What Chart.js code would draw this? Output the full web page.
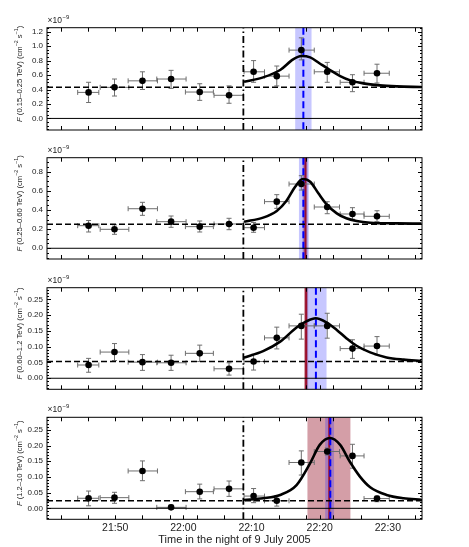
<!DOCTYPE html>
<html><head><meta charset="utf-8">
<script src="https://cdn.jsdelivr.net/npm/chart.js@4.4.1/dist/chart.umd.min.js"></script>
<style>
html,body{margin:0;padding:0;background:#fff;}
#wrap{position:relative;width:469px;height:547px;overflow:hidden;}
canvas{position:absolute;left:0;}
</style></head><body>
<div id="wrap">
<canvas id="c0" width="469" height="140" style="top:0px"></canvas>
<canvas id="c1" width="469" height="140" style="top:130px"></canvas>
<canvas id="c2" width="469" height="140" style="top:260px"></canvas>
<canvas id="c3" width="469" height="157" style="top:390px"></canvas>
</div>
<script>
// time in minutes after 21:00 (night of 9 July 2005)
const binTime  = [46.1, 49.9, 54.0, 58.2, 62.4, 66.7, 70.3, 73.7, 77.3, 81.1, 84.8, 88.4];
const binStart = [44.5, 47.8, 51.9, 56.1, 60.3, 64.5, 68.9, 71.9, 75.5, 79.2, 83.0, 86.5];
const binEnd   = [47.6, 52.0, 56.2, 60.4, 64.4, 68.8, 71.9, 75.5, 79.2, 82.9, 86.5, 90.2];

// fluxes in units of 1e-9 cm^-2 s^-1
const flux1 = [0.36, 0.43, 0.52, 0.545, 0.365, 0.32, 0.645, 0.585, 0.945, 0.645, 0.50, 0.625];
const low1  = [0.22, 0.31, 0.40, 0.415, 0.25, 0.21, 0.50, 0.45, 0.81, 0.50, 0.37, 0.49];
const high1 = [0.50, 0.545, 0.645, 0.665, 0.48, 0.45, 0.80, 0.725, 1.115, 0.775, 0.605, 0.75];

const flux2 = [0.236, 0.198, 0.413, 0.278, 0.226, 0.254, 0.215, 0.487, 0.671, 0.431, 0.358, 0.334];
const low2  = [0.17, 0.146, 0.344, 0.219, 0.17, 0.194, 0.167, 0.417, 0.608, 0.361, 0.303, 0.278];
const high2 = [0.29, 0.245, 0.48, 0.337, 0.285, 0.313, 0.27, 0.56, 0.758, 0.486, 0.424, 0.392];

const flux3 = [0.042, 0.083, 0.051, 0.049, 0.079, 0.030, 0.053, 0.128, 0.166, 0.166, 0.094, 0.102];
const low3  = [0.019, 0.056, 0.025, 0.025, 0.053, 0.010, 0.026, 0.093, 0.124, 0.127, 0.063, 0.074];
const high3 = [0.063, 0.110, 0.075, 0.073, 0.105, 0.049, 0.076, 0.162, 0.203, 0.206, 0.122, 0.132];

const flux4 = [0.032, 0.034, 0.119, 0.003, 0.053, 0.062, 0.039, 0.024, 0.146, 0.181, 0.167, 0.031];
const low4  = [0.008, 0.016, 0.088, -0.003, 0.030, 0.038, 0.018, 0.007, 0.106, 0.170, 0.128, 0.021];
const high4 = [0.055, 0.051, 0.151, 0.010, 0.077, 0.087, 0.063, 0.040, 0.183, 0.192, 0.204, 0.039];

// constant (pre-flare) flux levels
const constFlux = [0.43, 0.25, 0.053, 0.024];
// flare onset (dash-dot line)
const flareOnset = 68.8;

// fitted flare curves
const curveT1 = [68.9, 71.7, 74.2, 76.1, 77.3, 78.6, 80.0, 81.5, 83.0, 84.4, 86.4, 88.8, 91.3, 94.9];
const curveF1 = [0.507, 0.568, 0.67, 0.817, 0.863, 0.845, 0.76, 0.67, 0.586, 0.53, 0.485, 0.457, 0.443, 0.434];
const curveT2 = [68.9, 71.7, 73.7, 75.1, 76.4, 77.5, 78.6, 79.8, 81.0, 82.5, 83.9, 85.4, 87.4, 91.3, 94.9];
const curveF2 = [0.278, 0.32, 0.39, 0.494, 0.643, 0.723, 0.695, 0.574, 0.459, 0.365, 0.313, 0.285, 0.267, 0.26, 0.257];
const curveT3 = [68.8, 71.7, 74.2, 76.6, 78.1, 79.4, 81.0, 82.5, 83.9, 85.4, 87.4, 89.8, 92.3, 94.9];
const curveF3 = [0.065, 0.086, 0.116, 0.161, 0.181, 0.19, 0.177, 0.153, 0.127, 0.103, 0.082, 0.066, 0.059, 0.055];
const curveT4 = [68.9, 71.7, 74.2, 76.6, 78.6, 80.0, 81.5, 83.0, 84.4, 85.9, 87.4, 89.8, 92.3, 94.9];
const curveF4 = [0.0265, 0.032, 0.0425, 0.074, 0.144, 0.202, 0.224, 0.202, 0.149, 0.101, 0.067, 0.0425, 0.032, 0.0275];

// peak-time estimates and their uncertainty bands
const bluePeak = [77.6, 77.6, 79.44, 81.55];
const blueBand = [[76.4, 78.8], [76.95, 78.4], [77.98, 81.0], [80.8, 82.1]];
const redPeak  = [null, 77.9, 78.0, 81.4];
const redBand  = [null, [77.5, 78.2], [77.7, 78.3], [78.2, 84.5]];

// axis ticks
const xTickVals   = [50, 60, 70, 80, 90];
const xTickLabels = ['21:50', '22:00', '22:10', '22:20', '22:30'];
const xSmallTicks = [42, 46, 50, 54, 58, 60, 62, 66, 70, 74, 78, 80, 82, 86, 90, 94];
const yTicks1 = [0, 0.2, 0.4, 0.6, 0.8, 1.0, 1.2];
const yLabels1 = ['0.0', '0.2', '0.4', '0.6', '0.8', '1.0', '1.2'];
const yTicks2 = [0, 0.2, 0.4, 0.6, 0.8];
const yLabels2 = ['0.0', '0.2', '0.4', '0.6', '0.8'];
const yTicks3 = [0, 0.05, 0.10, 0.15, 0.20, 0.25];
const yLabels3 = ['0.00', '0.05', '0.10', '0.15', '0.20', '0.25'];
const energyBands = ['0.15–0.25', '0.25–0.60', '0.60–1.2', '1.2–10'];
const xTitle = 'Time in the night of 9 July 2005';
const scaleFactorText = ['×10', '−9'];

const FONT = '"Liberation Sans", Arial, Helvetica, sans-serif';

const panels = [
  {flux: flux1, low: low1, high: high1, cT: curveT1, cF: curveF1, yMin: -0.16, yMax: 1.255, yT: yTicks1, yL: yLabels1, minor: 0.05},
  {flux: flux2, low: low2, high: high2, cT: curveT2, cF: curveF2, yMin: -0.112, yMax: 0.946, yT: yTicks2, yL: yLabels2, minor: 0.05},
  {flux: flux3, low: low3, high: high3, cT: curveT3, cF: curveF3, yMin: -0.035, yMax: 0.287, yT: yTicks3, yL: yLabels3, minor: 0.01},
  {flux: flux4, low: low4, high: high4, cT: curveT4, cF: curveF4, yMin: -0.035, yMax: 0.290, yT: yTicks3, yL: yLabels3, minor: 0.01}
];
const X_MIN = 40, X_MAX = 95;
// wanted plot-area frame inside each canvas
const frames = [
  {left: 47, right: 422, top: 27.7, bottom: 130},
  {left: 47, right: 422, top: 27.7, bottom: 129},
  {left: 47, right: 422, top: 27.7, bottom: 129.3},
  {left: 47, right: 422, top: 27.3, bottom: 129.3}
];

function vline(ctx, x, ca) { ctx.beginPath(); ctx.moveTo(x, ca.top); ctx.lineTo(x, ca.bottom); ctx.stroke(); }

function makePlugin(k) {
  const p = panels[k];
  return {
    id: 'decor' + k,
    beforeDatasetsDraw(chart) {
      const {ctx, chartArea: ca, scales: {x, y}} = chart;
      ctx.save();
      ctx.beginPath(); ctx.rect(ca.left, ca.top, ca.width, ca.height); ctx.clip();
      if (redBand[k]) {
        const a = x.getPixelForValue(redBand[k][0]), b = x.getPixelForValue(redBand[k][1]);
        ctx.fillStyle = 'rgba(160,40,60,0.45)';
        ctx.fillRect(a, ca.top, b - a, ca.height);
      }
      {
        const a = x.getPixelForValue(blueBand[k][0]), b = x.getPixelForValue(blueBand[k][1]);
        ctx.fillStyle = 'rgba(0,0,255,0.22)';
        ctx.fillRect(a, ca.top, b - a, ca.height);
      }
      if (redPeak[k] != null) {
        ctx.strokeStyle = '#9a0f2c'; ctx.lineWidth = 2; ctx.setLineDash([]);
        vline(ctx, x.getPixelForValue(redPeak[k]), ca);
      }
      ctx.strokeStyle = '#0000ff'; ctx.lineWidth = 2; ctx.setLineDash([7, 3.5]);
      vline(ctx, x.getPixelForValue(bluePeak[k]), ca);
      ctx.setLineDash([]);
      // error bars
      ctx.strokeStyle = '#6e6e6e'; ctx.lineWidth = 1;
      for (let i = 0; i < binTime.length; i++) {
        const px = x.getPixelForValue(binTime[i]), py = y.getPixelForValue(p.flux[i]);
        const x0 = x.getPixelForValue(binStart[i]), x1 = x.getPixelForValue(binEnd[i]);
        const yl = y.getPixelForValue(p.low[i]), yh = y.getPixelForValue(p.high[i]);
        ctx.beginPath();
        ctx.moveTo(x0, py); ctx.lineTo(x1, py);
        ctx.moveTo(x0, py - 2.5); ctx.lineTo(x0, py + 2.5);
        ctx.moveTo(x1, py - 2.5); ctx.lineTo(x1, py + 2.5);
        ctx.moveTo(px, yl); ctx.lineTo(px, yh);
        ctx.moveTo(px - 2.5, yl); ctx.lineTo(px + 2.5, yl);
        ctx.moveTo(px - 2.5, yh); ctx.lineTo(px + 2.5, yh);
        ctx.stroke();
      }
      ctx.restore();
    },
    afterDraw(chart) {
      const {ctx, chartArea: ca, scales: {x, y}} = chart;
      ctx.save();
      ctx.strokeStyle = '#000'; ctx.lineWidth = 1; ctx.setLineDash([]);
      ctx.strokeRect(ca.left, ca.top, ca.width, ca.height);
      ctx.beginPath();
      xSmallTicks.forEach(v => {
        const px = Math.round(x.getPixelForValue(v)) + 0.5;
        ctx.moveTo(px, ca.top); ctx.lineTo(px, ca.top + 4);
        ctx.moveTo(px, ca.bottom); ctx.lineTo(px, ca.bottom - 4);
      });
      const n0 = Math.ceil(p.yMin / p.minor - 1e-6), n1 = Math.floor(p.yMax / p.minor + 1e-6);
      for (let n = n0; n <= n1; n++) {
        const py = Math.round(y.getPixelForValue(n * p.minor)) + 0.5;
        ctx.moveTo(ca.left, py); ctx.lineTo(ca.left + 2, py);
        ctx.moveTo(ca.right, py); ctx.lineTo(ca.right - 2, py);
      }
      p.yT.forEach(v => {
        const py = Math.round(y.getPixelForValue(v)) + 0.5;
        ctx.moveTo(ca.left, py); ctx.lineTo(ca.left + 4, py);
        ctx.moveTo(ca.right, py); ctx.lineTo(ca.right - 4, py);
      });
      ctx.stroke();

      // scale factor label
      ctx.fillStyle = '#222';
      ctx.textBaseline = 'alphabetic';
      ctx.textAlign = 'left';
      ctx.font = '8.5px ' + FONT;
      const sx = ca.left + 0.5, sy = ca.top - 5;
      ctx.fillText(scaleFactorText[0], sx, sy);
      const w0 = ctx.measureText(scaleFactorText[0]).width;
      ctx.font = '6px ' + FONT;
      ctx.fillText(scaleFactorText[1], sx + w0 + 0.5, sy - 4);

      // y title
      const fs = 7.6;
      const parts = [
        ['F', 'italic ' + fs + 'px ' + FONT, 0],
        [' (' + energyBands[k] + ' TeV) (cm', fs + 'px ' + FONT, 0],
        ['−2', (fs * 0.7) + 'px ' + FONT, -3],
        [' s', fs + 'px ' + FONT, 0],
        ['−1', (fs * 0.7) + 'px ' + FONT, -3],
        [')', fs + 'px ' + FONT, 0]
      ];
      let tw = 0;
      parts.forEach(pt => { ctx.font = pt[1]; pt.push(ctx.measureText(pt[0]).width); tw += pt[3]; });
      ctx.translate(20, (ca.top + ca.bottom) / 2 - 5);
      ctx.rotate(-Math.PI / 2);
      ctx.textBaseline = 'middle';
      let cx = -tw / 2;
      parts.forEach(pt => { ctx.font = pt[1]; ctx.fillText(pt[0], cx, pt[2]); cx += pt[3]; });
      ctx.restore();
    }
  };
}

function makeChart(k) {
  const p = panels[k];
  const isBottom = k === 3;
  const canvas = document.getElementById('c' + k);
  const fr = frames[k];
  const pts = binTime.map((t, i) => ({x: t, y: p.flux[i]}));
  const curve = p.cT.map((t, i) => ({x: t, y: p.cF[i]}));
  const datasets = [
    {type: 'scatter', data: pts, pointRadius: 3.3, pointBackgroundColor: '#000', pointBorderColor: '#000', pointBorderWidth: 0},
    {type: 'line', data: curve, borderColor: '#000', borderWidth: 2.6, pointRadius: 0, cubicInterpolationMode: 'monotone', fill: false},
    {type: 'line', data: [{x: X_MIN, y: constFlux[k]}, {x: X_MAX, y: constFlux[k]}], borderColor: '#000', borderWidth: 1.5, borderDash: [6, 3], pointRadius: 0, fill: false},
    {type: 'line', data: [{x: X_MIN, y: 0}, {x: X_MAX, y: 0}], borderColor: '#000', borderWidth: 1, pointRadius: 0, fill: false},
    {type: 'line', data: [{x: flareOnset, y: p.yMin}, {x: flareOnset, y: p.yMax}], borderColor: '#000', borderWidth: 1.8, borderDash: [7, 3, 1.5, 3], pointRadius: 0, fill: false}
  ];
  const xAxisH = isBottom ? canvas.height - fr.bottom : 0;
  const chart = new Chart(canvas, {
    type: 'scatter',
    data: {datasets},
    options: {
      responsive: false,
      animation: false,
      layout: {autoPadding: false, padding: {left: 0, right: canvas.width - fr.right, top: fr.top, bottom: isBottom ? 0 : canvas.height - fr.bottom}},
      plugins: {legend: {display: false}, tooltip: {enabled: false}},
      scales: {
        x: {
          type: 'linear', min: X_MIN, max: X_MAX,
          display: isBottom,
          grid: {display: false, drawTicks: false},
          border: {display: false},
          afterBuildTicks: s => { s.ticks = xTickVals.map(v => ({value: v})); },
          afterFit: s => { if (isBottom) s.height = xAxisH; },
          ticks: {
            autoSkip: false, maxRotation: 0, padding: 3, color: '#222',
            font: {family: FONT, size: 10.5},
            callback: (v) => xTickLabels[xTickVals.indexOf(v)]
          },
          title: {display: isBottom, text: xTitle, color: '#222', font: {family: FONT, size: 11}, padding: {top: 0, bottom: 0}}
        },
        y: {
          type: 'linear', min: p.yMin, max: p.yMax,
          grid: {display: false, drawTicks: false},
          border: {display: false},
          afterBuildTicks: s => { s.ticks = p.yT.map(v => ({value: v})); },
          afterFit: s => { s.width = fr.left; },
          ticks: {
            autoSkip: false, padding: 4, color: '#222',
            font: {family: FONT, size: 8},
            callback: (v, i) => p.yL[i]
          }
        }
      }
    },
    plugins: [makePlugin(k)]
  });
  // nudge layout so the plot frame sits exactly where wanted
  for (let it = 0; it < 3; it++) {
    const ca = chart.chartArea, pad = chart.options.layout.padding;
    const dT = fr.top - ca.top, dB = ca.bottom - fr.bottom, dR = ca.right - fr.right;
    if (Math.abs(dT) < 0.05 && Math.abs(dB) < 0.05 && Math.abs(dR) < 0.05) break;
    pad.top += dT; pad.right += dR;
    if (!isBottom) pad.bottom += dB;
    chart.update();
  }
}
for (let k = 0; k < 4; k++) makeChart(k);
</script>
</body></html>
